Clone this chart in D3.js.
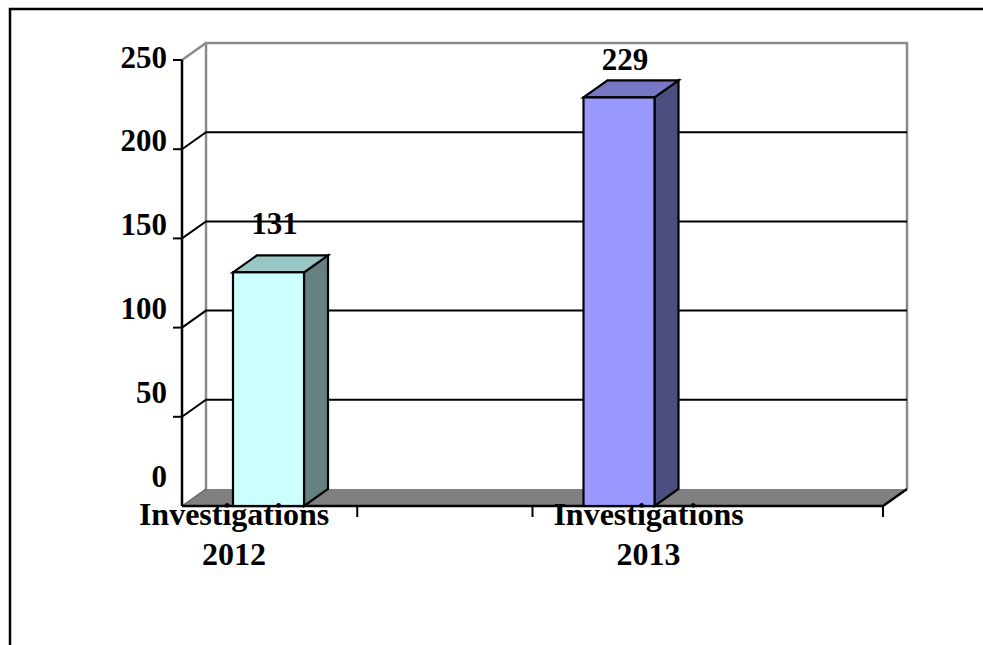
<!DOCTYPE html>
<html>
<head>
<meta charset="utf-8">
<script src="https://cdn.jsdelivr.net/npm/d3@7"></script>
<style>
  html, body { margin: 0; padding: 0; background: #fff; }
  svg { display: block; }
  text { font-family: "Liberation Serif", "Times New Roman", serif; font-weight: bold; fill: #000; }
</style>
</head>
<body>
<svg id="chart" width="983" height="645"></svg>
<script>
// Investigations per year
const categories = ["Investigations 2012", "Investigations 2013"];
const labelLines = [["Investigations", "2012"], ["Investigations", "2013"]];
const values = [131, 229];
const yTicks = [0, 50, 100, 150, 200, 250];

const frontColors = ["#CCFFFF", "#9999FF"];
const topColors   = ["#99C7C5", "#7777C6"];
const sideColors  = ["#668280", "#4D4D80"];

const svg = d3.select("#chart");

// 3D depth offset of the walls and bars
const DX = 24, DY = -17;

// Front plane scales
const y = d3.scaleLinear().domain([0, 250]).range([506, 60]);
const x = d3.scaleLinear().domain([0, categories.length]).range([182, 883]);
// Text layer positions (labels sit on a slightly tighter vertical scale)
const yText = d3.scaleLinear().domain([0, 250]).range([476.5, 57.5]);

const barStart = 0.1455, barWidth = 0.2026;
const catLabelX = [234, 648.5];

const x0 = x(0), x1 = x(categories.length);
const yTop = y(250), yBase = y(0);

// Outer frame
svg.append("path")
  .attr("d", `M10,645 V9 H983`)
  .attr("fill", "none").attr("stroke", "#000").attr("stroke-width", 2.5);

// Back wall
svg.append("path")
  .attr("d", `M${x0 + DX},${yBase + DY} V${yTop + DY} H${x1 + DX} V${yBase + DY}`)
  .attr("fill", "#fff").attr("stroke", "#8a8a8a").attr("stroke-width", 2.5);
svg.append("line")
  .attr("x1", x0).attr("y1", yTop).attr("x2", x0 + DX).attr("y2", yTop + DY)
  .attr("stroke", "#8a8a8a").attr("stroke-width", 2.5);

// Value labels above bars (behind the gridlines)
svg.append("g").selectAll("text").data(values).join("text")
  .attr("x", (d, i) => x(i + barStart + barWidth / 2) + 6)
  .attr("y", d => yText(d) - 23)
  .attr("text-anchor", "middle")
  .attr("font-size", 31)
  .text(d => d);

// Gridlines: diagonal from the front axis, then across the back wall
const grid = svg.append("g");
yTicks.filter(v => v > 0 && v < 250).forEach(v => {
  grid.append("path")
    .attr("d", `M${x0},${y(v)} L${x0 + DX},${y(v) + DY} H${x1 + DX}`)
    .attr("fill", "none").attr("stroke", "#000").attr("stroke-width", 2);
});

// Floor
svg.append("path")
  .attr("d", `M${x0},${yBase} L${x0 + DX},${yBase + DY} H${x1 + DX} L${x1},${yBase} Z`)
  .attr("fill", "#808080").attr("stroke", "none");
svg.append("line")
  .attr("x1", x0).attr("y1", yBase).attr("x2", x0 + DX).attr("y2", yBase + DY)
  .attr("stroke", "#666").attr("stroke-width", 1.5);
svg.append("path")
  .attr("d", `M${x0},${yBase} H${x1} L${x1 + DX},${yBase + DY}`)
  .attr("fill", "none").attr("stroke", "#000").attr("stroke-width", 2.5);

// Category axis ticks
[0.5, 1, 2].forEach(t => {
  svg.append("line")
    .attr("x1", x(t)).attr("x2", x(t)).attr("y1", yBase).attr("y2", yBase + 11)
    .attr("stroke", "#000").attr("stroke-width", 2);
});

// Value axis
svg.append("line")
  .attr("x1", x0).attr("x2", x0).attr("y1", yTop).attr("y2", yBase)
  .attr("stroke", "#000").attr("stroke-width", 2.5);
svg.append("g").selectAll("line").data(yTicks.filter(v => v > 0)).join("line")
  .attr("x1", x0 - 9).attr("x2", x0).attr("y1", d => y(d)).attr("y2", d => y(d))
  .attr("stroke", "#000").attr("stroke-width", 2);

// 3D bars
const bars = svg.append("g");
values.forEach((v, i) => {
  const l = x(i + barStart), r = x(i + barStart + barWidth);
  const t = y(v), b = y(0);
  const g = bars.append("g").attr("stroke", "#000").attr("stroke-width", 2.2).attr("stroke-linejoin", "miter");
  g.append("path") // side
    .attr("d", `M${r},${b} L${r + DX},${b + DY} V${t + DY} L${r},${t} Z`)
    .attr("fill", sideColors[i]);
  g.append("path") // top
    .attr("d", `M${l},${t} L${l + DX},${t + DY} H${r + DX} L${r},${t} Z`)
    .attr("fill", topColors[i]);
  g.append("rect") // front
    .attr("x", l).attr("y", t).attr("width", r - l).attr("height", b - t)
    .attr("fill", frontColors[i]);
});

// Value axis labels
svg.append("g").selectAll("text").data(yTicks).join("text")
  .attr("x", 167)
  .attr("y", d => yText(d) + 10)
  .attr("text-anchor", "end")
  .attr("font-size", 31)
  .text(d => d);

// Category labels
labelLines.forEach((lines, i) => {
  const t = svg.append("text")
    .attr("text-anchor", "middle")
    .attr("font-size", 32);
  lines.forEach((line, k) => {
    t.append("tspan").attr("x", catLabelX[i]).attr("y", 525 + k * 40).text(line);
  });
});
</script>
</body>
</html>
